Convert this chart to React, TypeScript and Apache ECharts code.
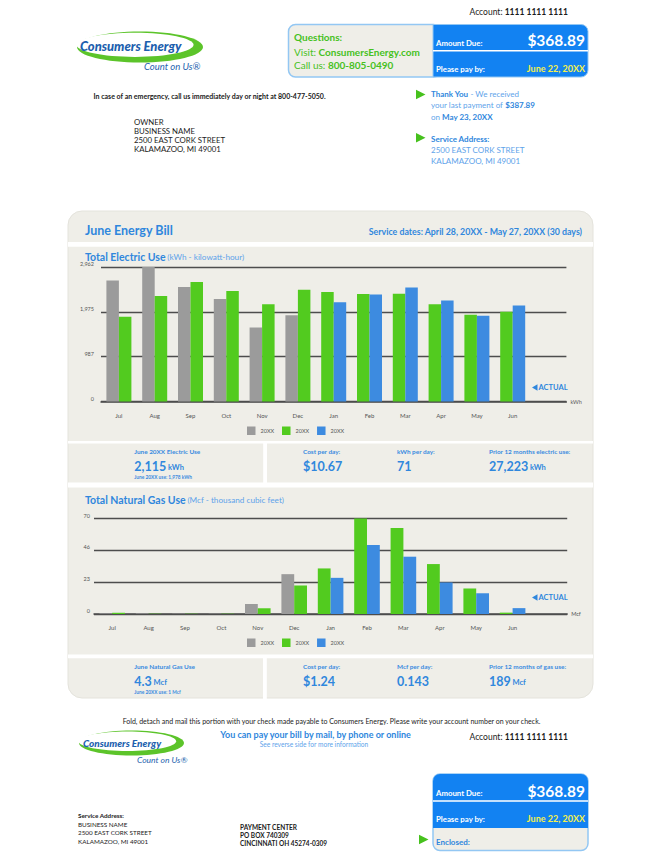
import React, { useEffect, useRef } from "react";
import * as echarts from "echarts";

// ---------- data ----------
const months = ["Jul", "Aug", "Sep", "Oct", "Nov", "Dec", "Jan", "Feb", "Mar", "Apr", "May", "Jun"];
const legendLabels = ["20XX", "20XX", "20XX"];

const electricTwoYearsAgo = [2667, 2962, 2520, 2255, 1628, 1901]; // Jul–Dec (gray)
const electricLastYear = [1864, 2321, 2630, 2431, 2144, 2461, 2409, 2365, 2372, 2144, 1908, 1978]; // green
const electricThisYear = [2188, 2358, 2513, 2225, 1886, 2115]; // Jan–Jun (blue)
const electricMax = 2962;
const electricTicks = ["0", "987", "1,975", "2,962"];

const gasTwoYearsAgo = [0.4, 0.4, 0.2, 0.2, 7.4, 29.2];
const gasLastYear = [0.9, 0.2, 0.2, 0.2, 4.2, 20.9, 33.4, 70, 63.1, 36.6, 18.7, 1];
const gasThisYear = [26.5, 50.6, 42, 23.1, 15.2, 4.3];
const gasMax = 70;
const gasTicks = ["0", "23", "46", "70"];

// ---------- style ----------
const FONT = 'Lato, "Noto Sans", sans-serif';
const C = {
  blue: "#2f87dd",
  lblue: "#5ea3ea",
  statBlue: "#3a8be0",
  green: "#46c11d",
  boxBlue: "#1282f2",
  yellow: "#f3f04c",
  beige: "#efeee8",
  border: "#93c7f3",
  black: "#1b1b1b",
  barGray: "#9b9b9b",
  barGreen: "#52cb1f",
  barBlue: "#3d8be0",
  axis: "#4d4d4d",
  tick: "#555555",
  logo: "#1d5fae",
};

type TOpt = {
  size?: number;
  weight?: string;
  fill?: string;
  align?: string;
  fstyle?: string;
  rich?: any;
};

function T(x: number, y: number, text: string, o: TOpt = {}) {
  return {
    type: "text",
    x,
    y,
    z: 20,
    silent: true,
    style: {
      text,
      fill: o.fill ?? C.black,
      fontSize: o.size ?? 7,
      fontWeight: o.weight ?? "normal",
      fontStyle: o.fstyle ?? "normal",
      fontFamily: FONT,
      align: o.align ?? "left",
      verticalAlign: "middle",
      rich: o.rich,
    },
  };
}

function R(x: number, y: number, w: number, h: number, fill: string, r: any = 0, stroke?: string, lw = 1, z = 1) {
  return {
    type: "rect",
    z,
    silent: true,
    shape: { x, y, width: w, height: h, r },
    style: { fill, stroke: stroke ?? "none", lineWidth: lw },
  };
}

function tri(x: number, y: number) {
  return {
    type: "polygon",
    z: 20,
    silent: true,
    shape: { points: [[x, y - 4.8], [x, y + 4.8], [x + 9.5, y]] },
    style: { fill: C.green },
  };
}

function logo(cx: number, cy: number, rx: number, ry: number, tx: number, ty: number, ts: number, ux: number, uy: number, us: number) {
  return [
    { type: "ellipse", z: 5, silent: true, shape: { cx, cy, rx, ry }, style: { fill: "#5cc42a" } },
    {
      type: "ellipse",
      z: 6,
      silent: true,
      shape: { cx: cx - rx * 0.08, cy: cy - ry * 0.14, rx: rx * 0.93, ry: ry * 0.78 },
      style: { fill: "#ffffff" },
    },
    T(tx, ty, "Consumers Energy", { size: ts, weight: "900", fstyle: "italic", fill: C.logo }),
    T(ux, uy, "Count on Us®", { size: us, fstyle: "italic", fill: C.logo }),
  ];
}

const infoRich = {
  b: { fontWeight: "bold", fill: C.blue, fontSize: 8, fontFamily: FONT },
  n: { fill: C.lblue, fontSize: 8, fontFamily: FONT },
};

function statLabel(x: number, y: number, text: string) {
  return T(x, y, text, { size: 6.4, weight: "bold", fill: C.statBlue });
}
function statValue(x: number, y: number, big: string, unit?: string) {
  const text = unit ? `{big|${big}} {u|${unit}}` : `{big|${big}}`;
  return T(x, y, text, {
    rich: {
      big: { fontSize: 12.5, fontWeight: "bold", fill: C.blue, fontFamily: FONT, verticalAlign: "bottom" },
      u: { fontSize: 7.5, fontWeight: "bold", fill: C.blue, fontFamily: FONT, verticalAlign: "bottom", padding: [0, 0, 1, 0] },
    },
  });
}

function barSeries(key: string, prev2: number[], prev1: number[], curr: number[], idx: number, width: number) {
  const half = 6;
  const gray = months.map((_, i) => (i < half ? prev2[i] : null));
  const greenRight = months.map((_, i) => (i < half ? prev1[i] : null));
  const greenLeft = months.map((_, i) => (i >= half ? prev1[i] : null));
  const blue = months.map((_, i) => (i >= half ? curr[i - half] : null));
  const base = { type: "bar", xAxisIndex: idx, yAxisIndex: idx, barWidth: width, barGap: "0%", silent: true };
  return [
    { ...base, name: key + "2", stack: key + "L", data: gray, itemStyle: { color: C.barGray } },
    { ...base, name: key + "1", stack: key + "R", data: greenRight, itemStyle: { color: C.barGreen } },
    { ...base, name: key + "1", stack: key + "L", data: greenLeft, itemStyle: { color: C.barGreen } },
    { ...base, name: key + "0", stack: key + "R", data: blue, itemStyle: { color: C.barBlue } },
  ];
}

function xAxisFor(idx: number, unit: string, margin: number) {
  return {
    gridIndex: idx,
    type: "category",
    data: [...months, ""],
    axisLine: { lineStyle: { color: C.axis, width: 1.5 } },
    axisTick: { show: false },
    axisLabel: { fontSize: 6, color: C.tick, margin, fontFamily: FONT, interval: 0 },
    name: unit,
    nameLocation: "end",
    nameGap: 4,
    nameTextStyle: { fontSize: 5.5, color: C.tick, fontFamily: FONT },
  };
}

function yAxisFor(idx: number, max: number, ticks: string[], margin: number) {
  return {
    gridIndex: idx,
    type: "value",
    min: 0,
    max,
    interval: max / 3,
    axisLine: { show: false },
    axisTick: { show: false },
    splitLine: { lineStyle: { color: C.axis, width: 1.4 } },
    axisLabel: {
      fontSize: 5.5,
      color: C.tick,
      margin,
      fontFamily: FONT,
      verticalAlign: "bottom",
      formatter: (v: number) => ticks[Math.round(v / (max / 3))] ?? "",
    },
  };
}

function legendFor(key: string, top: number) {
  const names = [key + "2", key + "1", key + "0"];
  return {
    data: names,
    left: 247,
    top,
    orient: "horizontal",
    itemWidth: 8.5,
    itemHeight: 8.5,
    itemGap: 8,
    icon: "rect",
    padding: 0,
    selectedMode: false,
    formatter: (n: string) => legendLabels[names.indexOf(n)] ?? n,
    textStyle: { fontSize: 5.5, color: C.tick, fontFamily: FONT },
  };
}

function actual(y: number) {
  return [
    {
      type: "polygon",
      z: 20,
      silent: true,
      shape: { points: [[532, y], [537.5, y - 3.3], [537.5, y + 3.3]] },
      style: { fill: C.blue },
    },
    T(538.5, y, "ACTUAL", { size: 7.5, weight: "bold", fill: C.blue }),
  ];
}

const accountRich = {
  n: { fontSize: 8.5, fill: C.black, fontFamily: FONT },
  b: { fontSize: 8.5, fontWeight: "bold", fill: C.black, fontFamily: FONT },
};
const greenRich = {
  n: { fontSize: 10, fill: C.green, fontFamily: FONT },
  b: { fontSize: 10, fontWeight: "bold", fill: C.green, fontFamily: FONT },
};
const titleRich = {
  b: { fontSize: 10.5, fontWeight: "bold", fill: C.blue, fontFamily: FONT },
  n: { fontSize: 8.2, fill: C.lblue, fontFamily: FONT },
};

function buildOption() {
  const graphics: any[] = [
    // ---------- header ----------
    T(469.5, 12, "{n|Account: }{b|1111 1111 1111}", { rich: accountRich }),
    ...logo(140, 47, 63, 15.5, 80, 46, 13, 144, 66.5, 9.5),

    // Questions box
    R(288.5, 24.5, 152, 52.5, C.beige, 7, C.border, 1.5, 2),
    R(433, 24.5, 155, 52.5, C.boxBlue, [0, 7, 7, 0], C.border, 1, 3),
    { type: "line", z: 4, silent: true, shape: { x1: 433, y1: 50.7, x2: 588, y2: 50.7 }, style: { stroke: "#ffffff", lineWidth: 1.5 } },
    T(294, 37, "Questions:", { size: 10, weight: "bold", fill: C.green }),
    T(294, 51.5, "{n|Visit: }{b|ConsumersEnergy.com}", { rich: greenRich }),
    T(294, 65, "{n|Call us: }{b|800-805-0490}", { rich: greenRich }),
    T(436, 42.5, "Amount Due:", { size: 7.8, weight: "bold", fill: "#ffffff" }),
    T(585, 40, "$368.89", { size: 15.5, weight: "bold", fill: "#ffffff", align: "right" }),
    T(436, 68.5, "Please pay by:", { size: 7.8, weight: "bold", fill: "#ffffff" }),
    T(585, 68.5, "June 22, 20XX", { size: 9, weight: "bold", fill: C.yellow, align: "right" }),

    T(93.5, 95.5, "In case of an emergency, call us immediately day or night at 800-477-5050.", { size: 7, weight: "bold" }),

    T(134, 122.3, "OWNER", { size: 7.8 }),
    T(134, 131.2, "BUSINESS NAME", { size: 7.8 }),
    T(134, 140.1, "2500 EAST CORK STREET", { size: 7.8 }),
    T(134, 149, "KALAMAZOO, MI 49001", { size: 7.8 }),

    tri(416, 94.5),
    T(431, 94, "{b|Thank You}{n| - We received}", { rich: infoRich }),
    T(431, 105.2, "{n|your last payment of }{b|$387.89}", { rich: infoRich }),
    T(431, 116.5, "{n|on }{b|May 23, 20XX}", { rich: infoRich }),
    tri(416, 137.8),
    T(431, 139, "Service Address:", { size: 8, weight: "bold", fill: C.blue }),
    T(431, 150, "2500 EAST CORK STREET", { size: 8, fill: C.lblue }),
    T(431, 161, "KALAMAZOO, MI 49001", { size: 8, fill: C.lblue }),

    // ---------- main panel ----------
    R(68, 211, 525, 487, C.beige, 14, "#e4e3dc", 1, -10),
    R(68, 242, 525, 4.8, "#ffffff", 0, undefined, 1, -9),
    R(68, 441, 525, 2.5, "#ffffff", 0, undefined, 1, -9),
    R(68, 482.5, 525, 5, "#ffffff", 0, undefined, 1, -9),
    R(68, 654.5, 525, 3.8, "#ffffff", 0, undefined, 1, -9),
    R(263.2, 443, 3.8, 40, "#ffffff", 0, undefined, 1, -9),
    R(263, 658, 3.8, 41, "#ffffff", 0, undefined, 1, -9),

    T(85, 230.5, "June Energy Bill", { size: 12.5, weight: "bold", fill: C.blue }),
    T(582, 231.5, "Service dates: April 28, 20XX - May 27, 20XX (30 days)", {
      size: 8.8,
      weight: "bold",
      fill: C.blue,
      align: "right",
    }),
    T(85, 256.5, "{b|Total Electric Use} {n|(kWh - kilowatt-hour)}", { rich: titleRich }),
    ...actual(387.5),

    // electric stats
    statLabel(134.3, 451, "June 20XX Electric Use"),
    statValue(134.3, 466, "2,115", "kWh"),
    T(134.3, 476.5, "June 20XX use: 1,978 kWh", { size: 4.8, weight: "bold", fill: C.statBlue }),
    statLabel(303, 451, "Cost per day:"),
    statValue(303, 466, "$10.67"),
    statLabel(397, 451, "kWh per day:"),
    statValue(397, 466, "71"),
    statLabel(489, 451, "Prior 12 months electric use:"),
    statValue(489, 466, "27,223", "kWh"),

    T(85, 500, "{b|Total Natural Gas Use} {n|(Mcf - thousand cubic feet)}", { rich: titleRich }),
    ...actual(597.5),

    // gas stats
    statLabel(134.3, 666, "June Natural Gas Use"),
    statValue(134.3, 681, "4.3", "Mcf"),
    T(134.3, 691.5, "June 20XX use: 1 Mcf", { size: 4.8, weight: "bold", fill: C.statBlue }),
    statLabel(303, 666, "Cost per day:"),
    statValue(303, 681, "$1.24"),
    statLabel(397, 666, "Mcf per day:"),
    statValue(397, 681, "0.143"),
    statLabel(489, 666, "Prior 12 months of gas use:"),
    statValue(489, 681, "189", "Mcf"),

    // ---------- remittance ----------
    T(331.5, 721, "Fold, detach and mail this portion with your check made payable to Consumers Energy. Please write your account number on your check.", {
      size: 7,
      align: "center",
    }),
    ...logo(131.5, 743, 52.5, 12.5, 83, 743.3, 10, 137, 760, 8.5),
    T(315.5, 734, "You can pay your bill by mail, by phone or online", { size: 9, weight: "bold", fill: C.blue, align: "center" }),
    T(314, 743.5, "See reverse side for more information", { size: 6.6, fill: C.lblue, align: "center" }),
    T(469.5, 737, "{n|Account: }{b|1111 1111 1111}", { rich: accountRich }),

    R(433, 774, 155, 76.5, C.beige, 7, C.border, 1.5, 2),
    R(433, 774, 155, 54, C.boxBlue, [7, 7, 0, 0], undefined, 1, 3),
    { type: "line", z: 4, silent: true, shape: { x1: 433, y1: 801, x2: 588, y2: 801 }, style: { stroke: "#ffffff", lineWidth: 1.5 } },
    T(436, 793, "Amount Due:", { size: 7.8, weight: "bold", fill: "#ffffff" }),
    T(585, 790.5, "$368.89", { size: 15.5, weight: "bold", fill: "#ffffff", align: "right" }),
    T(436, 819, "Please pay by:", { size: 7.8, weight: "bold", fill: "#ffffff" }),
    T(585, 818.5, "June 22, 20XX", { size: 9, weight: "bold", fill: C.yellow, align: "right" }),
    T(436, 841.5, "Enclosed:", { size: 8, weight: "bold", fill: C.blue }),
    tri(419, 839.5),

    T(78, 815.5, "Service Address:", { size: 6.3, weight: "bold" }),
    T(78, 824, "BUSINESS NAME", { size: 6.3 }),
    T(78, 832.5, "2500 EAST CORK STREET", { size: 6.3 }),
    T(78, 841, "KALAMAZOO, MI 49001", { size: 6.3 }),

    T(240, 827.5, "PAYMENT CENTER", { size: 6.5, weight: "bold" }),
    T(240, 835.5, "PO BOX 740309", { size: 6.5, weight: "bold" }),
    T(240, 843.5, "CINCINNATI OH 45274-0309", { size: 6.5, weight: "bold" }),
  ];

  return {
    animation: false,
    backgroundColor: "#ffffff",
    textStyle: { fontFamily: FONT },
    grid: [
      { left: 101, top: 267, width: 465.4, height: 134.5, containLabel: false },
      { left: 94, top: 518.5, width: 473.2, height: 95.5, containLabel: false },
    ],
    xAxis: [xAxisFor(0, "kWh", 11), xAxisFor(1, "Mcf", 10.5)],
    yAxis: [yAxisFor(0, electricMax, electricTicks, 7), yAxisFor(1, gasMax, gasTicks, 4)],
    legend: [legendFor("e", 426.5), legendFor("g", 638.5)],
    series: [
      ...barSeries("e", electricTwoYearsAgo, electricLastYear, electricThisYear, 0, 12.5),
      ...barSeries("g", gasTwoYearsAgo, gasLastYear, gasThisYear, 1, 12.8),
    ],
    graphic: { elements: graphics },
  };
}

export default function App() {
  const ref = useRef<HTMLDivElement>(null);
  useEffect(() => {
    if (!ref.current) return;
    const chart = echarts.init(ref.current, null, { renderer: "svg" });
    chart.setOption(buildOption() as any);
    return () => chart.dispose();
  }, []);
  return <div ref={ref} style={{ position: "absolute", left: 0, top: 0, width: 663, height: 861 }} />;
}
